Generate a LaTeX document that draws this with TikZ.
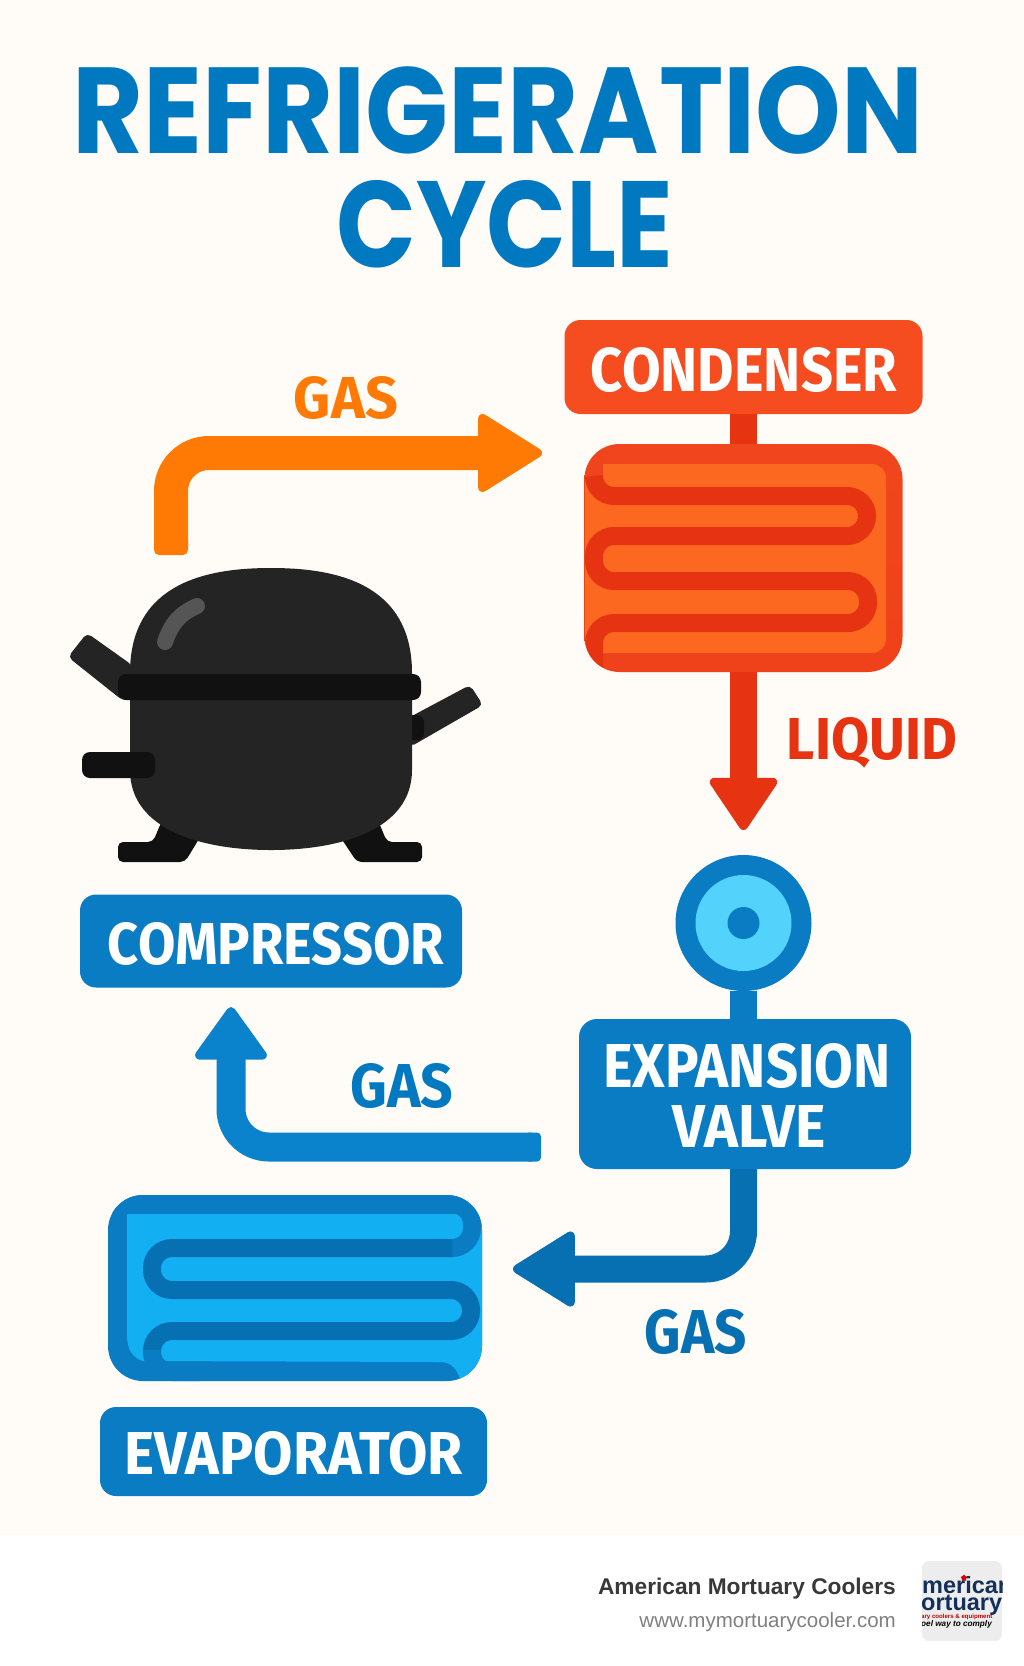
\documentclass[tikz,border=0pt]{standalone}
\usepackage{fontspec}
\usepackage{xcolor}
\usetikzlibrary{arrows.meta, shapes.geometric}
\newfontfamily\titlefont{Poppins}
\newfontfamily\labelfont{Fira Sans}
\newfontfamily\footfont{Liberation Sans}
\definecolor{PaperCream}{HTML}{FFFCF7}
\definecolor{TitleBlue}{HTML}{0079C1}
\definecolor{BoxBlue}{HTML}{0A7CC4}
\definecolor{DeepBlue}{HTML}{0670B3}
\definecolor{MidBlue}{HTML}{0B82CC}
\definecolor{IceBlue}{HTML}{12AFF2}
\definecolor{RingBlue}{HTML}{53D3FB}
\definecolor{PipeOrange}{HTML}{FF7A05}
\definecolor{BoxRed}{HTML}{F54D20}
\definecolor{CoilRed}{HTML}{E63312}
\definecolor{FrameRed}{HTML}{F0441C}
\definecolor{CoilOrange}{HTML}{FC6820}
\definecolor{ShellBlack}{HTML}{242424}
\definecolor{BandBlack}{HTML}{111111}
\definecolor{ShineGrey}{HTML}{555555}
\definecolor{LogoNavy}{HTML}{12305A}
\newcommand{\biglabel}[3]{\resizebox{#1pt}{#2pt}{\labelfont\bfseries #3}}
\newcommand{\bigtitle}[3]{\resizebox{#1pt}{#2pt}{\titlefont\bfseries #3}}
\tikzset{
    labelbox/.style={rounded corners=16pt, inner sep=0pt, text=white},
    flowpipe/.style={line width=#1, rounded corners=38pt},
    flowtip/.style 2 args={-{Triangle[length=#1, width=#2, line width=9pt, round]}},
    flowtext/.style={inner sep=0pt},
    coilbody/.style={rounded corners=35pt, inner sep=0pt},
}
\begin{document}
\begin{tikzpicture}[x=1pt, y=-1pt]
\useasboundingbox (0,0) rectangle (1024,1666);
\fill[white] (0,0) rectangle (1024,1666);
\fill[PaperCream] (0,0) rectangle (1024,1535);

\node[flowtext, text=TitleBlue] (title1) at (498,110) {\bigtitle{850}{87}{REFRIGERATION}};
\node[flowtext, text=TitleBlue] (title2) at (505,224) {\bigtitle{337}{87}{CYCLE}};

% condenser
\node[labelbox, fill=BoxRed, minimum width=358pt, minimum height=94pt] (condenserbox) at (743.500,367) {};
\node[flowtext, text=white] (condensertext) at (744,370) {\biglabel{306}{44}{CONDENSER}};
\node[coilbody, top color=FrameRed!80!BoxRed, bottom color=FrameRed!85!CoilRed, minimum width=318pt, minimum height=228pt] (condensercoil) at (743.500,558) {};
\draw[CoilRed, line width=27pt] (condenserbox.south) -- (condensercoil.north);
\begin{scope}
    \clip[rounded corners=35pt] (585,444) rectangle (903,672);
    \fill[CoilOrange, rounded corners=14pt] (585,464) rectangle (886,653);
    \draw[FrameRed, line width=18pt] (594,440) -- (594,478);
    \draw[CoilRed, line width=18pt, rounded corners=20pt] (594,476) -- (594,496) -- (867,496) -- (867,536) -- (594,536)
        -- (594,581) -- (868,581) -- (868,623) -- (594,623) -- (594,680);
\end{scope}

\coordinate (liquidtip) at (743.500,830);
\draw[CoilRed, line width=27pt, flowtip={56pt}{73pt}] (condensercoil.south) -- (liquidtip);
\node[flowtext, text=CoilRed] (liquidtext) at (872,743) {\biglabel{170}{42}{LIQUID}};

% compressor
\fill[BandBlack, rounded corners=5pt] (118,842) -- (153,842) -- (160,825) -- (165,815) -- (205,829) -- (185,862) -- (118,862) -- cycle;
\fill[BandBlack, rounded corners=5pt] (422,842) -- (387,842) -- (380,825) -- (375,815) -- (335,829) -- (357,862) -- (422,862) -- cycle;
\fill[ShellBlack, rounded corners=5pt] (87,633) -- (132,665) -- (132,700) -- (122,700) -- (68,657) -- cycle;
\fill[ShellBlack, rounded corners=5pt] (470,685) -- (483,705) -- (410,747) -- (410,717) -- cycle;
\fill[BandBlack, rounded corners=7pt] (405,715) rectangle (424,740);
\fill[ShellBlack] (130,673) .. controls (130,580) and (212,568) .. (271,568)
    .. controls (330,568) and (412,580) .. (412,673)
    -- (412,770) .. controls (412,830) and (340,850) .. (271,850)
    .. controls (202,850) and (130,830) .. (130,770) -- cycle;
\fill[BandBlack, rounded corners=8pt] (118,674) rectangle (421,700);
\fill[BandBlack, rounded corners=8pt] (82,752) rectangle (155,778);
\draw[ShineGrey, line width=16pt, line cap=round] (165,642) .. controls (172,622) and (180,614) .. (197,606);

\node[labelbox, fill=BoxBlue, minimum width=382pt, minimum height=93pt] (compressorbox) at (271,941) {};
\node[flowtext, text=white] (compressortext) at (276,944) {\biglabel{336}{42}{COMPRESSOR}};

% top gas line
\coordinate (gasstart) at (171,545);
\coordinate (gasbend) at (171,453);
\coordinate (gastip) at (542,453);
\draw[PipeOrange, flowpipe=34pt, flowtip={68pt}{83pt}] (gasstart) -- (gasbend) -- (gastip);
\fill[PipeOrange, rounded corners=5pt] (154,535) rectangle (188,555);
\node[flowtext, text=PipeOrange] (gastext1) at (346,398) {\biglabel{104}{42}{GAS}};

% valve
\node[circle, fill=BoxBlue, minimum size=136pt, inner sep=0pt] (valve) at (743.500,923) {};
\node[circle, fill=RingBlue, minimum size=96pt, inner sep=0pt] (valvering) at (valve) {};
\node[circle, fill=BoxBlue, minimum size=32pt, inner sep=0pt] (valvehub) at (valve) {};
\node[labelbox, rounded corners=18pt, fill=BoxBlue, minimum width=332pt, minimum height=150pt] (expansionbox) at (745,1094) {};
\node[flowtext, text=white] (expansiontext1) at (747,1066) {\biglabel{287}{44}{EXPANSION}};
\node[flowtext, text=white] (expansiontext2) at (749,1126) {\biglabel{153}{42}{VALVE}};
\draw[BoxBlue, line width=27pt] (valve.south) -- (valve.south |- expansionbox.north);

% lower gas lines
\coordinate (lowstart) at (743.500,1169);
\coordinate (lowbend) at (743.500,1269);
\coordinate (lowtip) at (513,1269);
\draw[DeepBlue, flowpipe=27pt, flowtip={66pt}{80pt}] (lowstart) -- (lowbend) -- (lowtip);
\node[flowtext, text=DeepBlue] (gastext3) at (696,1332) {\biglabel{102}{44}{GAS}};

\coordinate (backstart) at (532,1147);
\coordinate (backbend) at (231,1147);
\coordinate (backtip) at (231,1007);
\draw[MidBlue, flowpipe=29pt, flowtip={56pt}{78pt}] (backstart) -- (backbend) -- (backtip);
\fill[MidBlue, rounded corners=4pt] (525,1132.500) rectangle (541,1161.500);
\node[flowtext, text=TitleBlue] (gastext2) at (402,1086) {\biglabel{103}{44}{GAS}};

% evaporator
\node[coilbody, fill=BoxBlue, minimum width=374pt, minimum height=186pt] (evaporatorcoil) at (295,1288) {};
\begin{scope}
    \clip[rounded corners=35pt] (108,1195) rectangle (482,1381);
    \fill[IceBlue] (127,1335) .. controls (127,1350) and (133,1358) .. (143,1361) -- (440,1362)
        .. controls (452,1362) and (459,1370) .. (461,1385) -- (490,1385) -- (490,1214) -- (127,1214) -- cycle;
    \draw[BoxBlue, line width=18pt, rounded corners=20pt] (100,1204) -- (472,1204) -- (472,1248) -- (448,1248);
    \draw[DeepBlue, line width=18pt, rounded corners=20pt] (452,1248) -- (152,1248) -- (152,1290) -- (471,1290) -- (471,1331) -- (152,1331) -- (152,1352);
    \draw[BoxBlue, line width=18pt, rounded corners=20pt] (152,1350) -- (152,1372) -- (200,1372);
\end{scope}
\node[labelbox, fill=BoxBlue, minimum width=387pt, minimum height=89pt] (evaporatorbox) at (293.500,1451.500) {};
\node[flowtext, text=white] (evaporatortext) at (293.500,1453.500) {\biglabel{338}{43}{EVAPORATOR}};

% footer
\node[anchor=base east, inner sep=0pt, text=black!78] (brandname) at (896,1594) {\footfont\bfseries\fontsize{22.700}{26}\selectfont American Mortuary Coolers};
\node[anchor=base east, inner sep=0pt, text=black!50] (brandurl) at (896,1627) {\footfont\fontsize{20.500}{24}\selectfont www.mymortuarycooler.com};
\begin{scope}
    \clip[rounded corners=7pt] (922,1561) rectangle (1002,1641);
    \fill[black!7] (922,1561) rectangle (1002,1641);
    \node[star, fill=red!85!black, minimum size=7pt, inner sep=0pt] (logostar) at (964,1578) {};
    \node[anchor=base west, inner sep=0pt, text=LogoNavy] (logoline1) at (922,1593) {\footfont\bfseries\fontsize{23.500}{24}\selectfont merican};
    \node[anchor=base west, inner sep=0pt, text=LogoNavy] (logoline2) at (921,1610) {\footfont\bfseries\fontsize{23.500}{24}\selectfont ortuary};
    \node[anchor=base west, inner sep=0pt, text=red!75!black] (logoline3) at (921,1618) {\footfont\bfseries\fontsize{6.100}{7}\selectfont ary coolers \& equipment};
    \node[anchor=base west, inner sep=0pt, text=black] (logoline4) at (921,1626) {\footfont\itshape\bfseries\fontsize{8.200}{9}\selectfont oel way to comply};
\end{scope}
\end{tikzpicture}
\end{document}
